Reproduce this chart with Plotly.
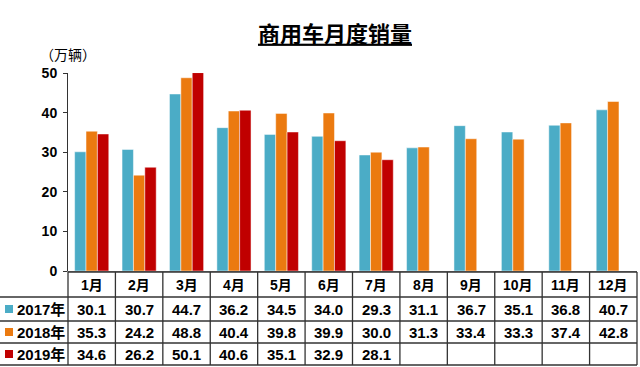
import plotly.graph_objects as go

months = ["1月", "2月", "3月", "4月", "5月", "6月", "7月", "8月", "9月", "10月", "11月", "12月"]
y2017 = [30.1, 30.7, 44.7, 36.2, 34.5, 34.0, 29.3, 31.1, 36.7, 35.1, 36.8, 40.7]
y2018 = [35.3, 24.2, 48.8, 40.4, 39.8, 39.9, 30.0, 31.3, 33.4, 33.3, 37.4, 42.8]
y2019 = [34.6, 26.2, 50.1, 40.6, 35.1, 32.9, 28.1, None, None, None, None, None]
series_names = ["2017年", "2018年", "2019年"]
colors = ["#4BACC6", "#EB7A10", "#C00000"]
title = "商用车月度销量"
unit = "（万辆）"

W, H = 640, 367
L, R, T, B = 68, 3, 73, 96
pw = W - L - R
ph = H - T - B

def px_x(px):
    return (px - L) / pw

def px_y(py):
    return (H - B - py) / ph

FONT = "Liberation Sans, Arial, Noto Sans CJK SC"
fig = go.Figure()
for name, vals, c in zip(series_names, [y2017, y2018, y2019], colors):
    fig.add_trace(go.Bar(x=months, y=vals, name=name, marker=dict(color=c, line=dict(color="rgba(255,255,255,0.6)", width=0.8))))

shapes = []
line = dict(color="#333333", width=1.3)
rows_px = [272, 297, 321, 343, 365]
shapes.append(dict(type="line", xref="paper", yref="paper", x0=0, x1=1, y0=px_y(rows_px[0]), y1=px_y(rows_px[0]), line=line))
for r in rows_px[1:]:
    shapes.append(dict(type="line", xref="paper", yref="paper", x0=px_x(0), x1=1, y0=px_y(r), y1=px_y(r), line=line))
for k in range(len(months) + 1):
    xp = k / len(months)
    shapes.append(dict(type="line", xref="paper", yref="paper", x0=xp, x1=xp, y0=px_y(rows_px[0]), y1=px_y(rows_px[-1]), line=line))

annotations = []
for m in months:
    annotations.append(dict(x=m, xref="x", y=px_y((rows_px[0] + rows_px[1]) / 2), yref="paper", text=m, showarrow=False,
                            font=dict(family=FONT, size=14, color="black", weight="bold"), xanchor="center", yanchor="middle"))
for i, (name, vals, c) in enumerate(zip(series_names, [y2017, y2018, y2019], colors)):
    yc = (rows_px[i + 1] + rows_px[i + 2]) / 2
    for m, v in zip(months, vals):
        if v is None:
            continue
        annotations.append(dict(x=m, xref="x", y=px_y(yc), yref="paper", text=f"{v:.1f}", showarrow=False,
                                font=dict(family=FONT, size=15, color="black", weight="bold"), xanchor="center", yanchor="middle"))
    annotations.append(dict(x=px_x(15), xref="paper", y=px_y(yc), yref="paper", text=name, showarrow=False,
                            font=dict(family=FONT, size=15, color="black", weight="bold"), xanchor="left", yanchor="middle"))
    shapes.append(dict(type="rect", xref="paper", yref="paper", x0=px_x(5), x1=px_x(13), y0=px_y(yc + 4), y1=px_y(yc - 4),
                       fillcolor=c, line=dict(width=0)))

annotations.append(dict(x=px_x(38), xref="paper", y=px_y(54), yref="paper", text=unit, showarrow=False,
                        font=dict(family="Noto Sans CJK SC", size=14, color="black"), xanchor="left", yanchor="middle"))

fig.update_layout(
    width=W, height=H,
    margin=dict(l=L, r=R, t=T, b=B),
    paper_bgcolor="white", plot_bgcolor="white",
    barmode="group", bargap=0.28, bargroupgap=0,
    showlegend=False,
    title=dict(text=f"<b><u>{title}</u></b>", x=335 / W, xanchor="center", xref="container",
               y=1 - 34 / H, yanchor="middle", font=dict(family="Noto Sans CJK SC", size=22, color="black")),
    xaxis=dict(showticklabels=False, showline=True, linecolor="#888888", ticks="", showgrid=False, zeroline=False),
    yaxis=dict(range=[0, 50], tickvals=[0, 10, 20, 30, 40, 50], showline=True, linecolor="#333333", linewidth=1,
               ticks="outside", ticklen=4, tickcolor="#333333", showgrid=False, zeroline=False, ticklabelstandoff=3,
               tickfont=dict(family=FONT, size=14, color="black", weight="bold")),
    shapes=shapes, annotations=annotations,
)
fig.write_html("out.html", config={"displayModeBar": False},
               post_script="document.body.style.margin='0';document.body.style.overflow='hidden';")
